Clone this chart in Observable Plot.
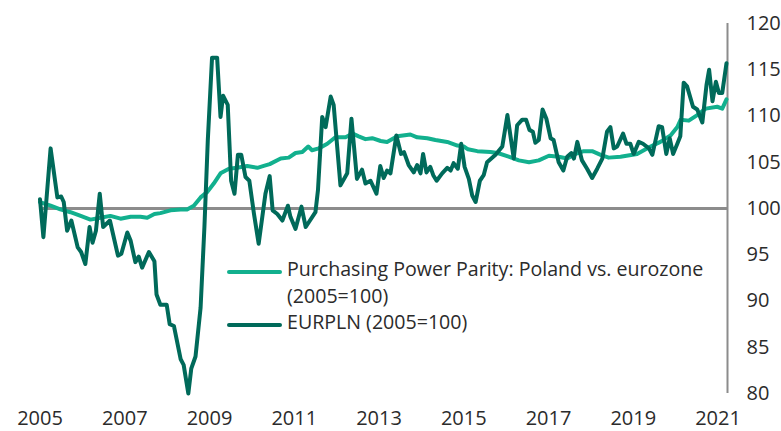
<!DOCTYPE html>
<html><head><meta charset="utf-8">
<script src="https://cdn.jsdelivr.net/npm/d3@7"></script>
<script src="https://cdn.jsdelivr.net/npm/@observablehq/plot@0.6"></script>
<style>
body{margin:0;background:#fff;}
#wrap{position:relative;width:781px;height:431px;font-family:"Open Sans", sans-serif;}
#legend{position:absolute;left:227px;top:256px;font-size:19.6px;line-height:26.7px;color:#2b2b2b;}
.row{display:flex;align-items:flex-start;white-space:nowrap;}
.sw{width:55px;height:4px;border-radius:2px;margin-right:5px;margin-top:13.7px;flex:none;}
</style>
</head><body>
<div id="wrap"></div>
<script>
// Series names
const seriesNames = ["Purchasing Power Parity: Poland vs. eurozone (2005=100)", "EURPLN (2005=100)"];
const seriesColors = ["#12b08e", "#006a5a"];
const baseline = 100;
const xTicks = [2005, 2007, 2009, 2011, 2013, 2015, 2017, 2019, 2021];
const yTicks = [80, 85, 90, 95, 100, 105, 110, 115, 120];
const xDomain = [2005, 2021.224];
const yDomain = [80, 120];

// EURPLN index (decimal year, value)
const eurDates = [2005.00,2005.08,2005.25,2005.41,2005.50,2005.56,2005.64,2005.74,2005.89,2005.97,
2006.07,2006.17,2006.24,2006.32,2006.41,2006.49,2006.65,2006.84,2006.92,
2007.06,2007.14,2007.25,2007.33,2007.41,2007.57,2007.70,2007.75,2007.84,2007.99,
2008.06,2008.16,2008.32,2008.39,2008.50,2008.57,2008.67,2008.79,2008.88,2008.96,
2009.06,2009.18,2009.26,2009.32,2009.43,2009.51,2009.59,2009.67,2009.75,2009.85,2009.94,
2010.05,2010.16,2010.32,2010.42,2010.49,2010.60,2010.72,2010.85,2010.91,
2011.03,2011.17,2011.27,2011.50,2011.56,2011.66,2011.74,2011.86,2011.93,
2012.09,2012.25,2012.35,2012.48,2012.60,2012.68,2012.80,2012.94,
2013.03,2013.11,2013.19,2013.27,2013.41,2013.52,2013.59,2013.70,2013.82,2013.90,2013.98,
2014.04,2014.12,2014.21,2014.28,2014.36,2014.49,2014.61,2014.69,2014.76,2014.86,2014.94,
2015.02,2015.12,2015.20,2015.28,2015.38,2015.47,2015.55,2015.65,2015.75,2015.91,
2016.03,2016.18,2016.26,2016.38,2016.47,2016.55,2016.63,2016.69,2016.77,2016.86,2016.95,
2017.05,2017.12,2017.24,2017.35,2017.44,2017.54,2017.60,2017.68,2017.79,2017.91,
2018.03,2018.15,2018.27,2018.38,2018.46,2018.54,2018.62,2018.76,2018.84,2018.93,
2019.01,2019.13,2019.23,2019.37,2019.45,2019.60,2019.68,2019.78,2019.86,2019.94,
2020.04,2020.11,2020.19,2020.27,2020.41,2020.51,2020.63,2020.73,2020.79,2020.87,2020.95,
2021.02,2021.10,2021.20];
const eurValues = [101.0,96.9,106.5,101.2,101.3,100.7,97.6,98.7,95.8,95.3,
94.0,98.0,96.3,97.6,101.6,98.0,98.7,94.9,95.1,
97.4,96.5,94.2,94.8,93.6,95.3,94.3,90.7,89.6,89.6,
87.5,87.3,83.7,83.1,80.0,82.7,84.0,89.3,98.0,107.4,
116.3,116.3,109.9,112.2,111.2,103.0,101.6,105.8,105.8,103.4,103.0,
99.4,96.2,101.6,103.5,99.8,99.4,98.7,100.3,99.1,
97.8,100.2,98.0,99.6,102.0,109.9,108.8,112.1,111.2,
102.5,103.8,109.7,103.2,104.2,102.7,103.0,101.6,
104.6,103.3,104.1,103.8,107.9,105.9,106.1,104.7,103.9,104.7,103.8,
105.9,103.9,104.5,103.6,103.0,103.8,104.4,104.1,104.9,104.3,107.0,
104.5,103.2,101.4,100.7,103.0,103.6,105.0,105.4,105.8,106.7,
110.1,105.4,109.0,109.6,109.6,108.5,108.3,107.1,107.4,110.7,109.7,
107.6,107.4,105.0,104.1,105.6,106.0,105.4,107.2,105.2,104.3,
103.3,104.3,105.4,108.3,108.8,106.5,106.7,108.1,107.0,107.0,
105.9,107.2,107.0,106.5,105.8,108.9,108.8,105.9,107.6,105.9,
107.0,107.8,113.6,113.2,111.0,110.7,109.3,113.4,115.0,111.6,113.7,
112.5,112.5,115.7];

// Purchasing Power Parity index (decimal year, value)
const pppDates = [2005.00,2005.25,2005.48,2005.72,2005.96,2006.19,2006.43,2006.66,2006.90,
2007.14,2007.37,2007.53,2007.70,2007.84,2008.08,2008.32,2008.47,2008.63,2008.79,2008.95,
2009.10,2009.26,2009.46,2009.65,2009.89,2010.13,2010.28,2010.42,2010.68,2010.87,
2011.03,2011.19,2011.33,2011.42,2011.58,2011.78,2011.97,2012.21,2012.38,2012.52,2012.68,2012.84,
2013.04,2013.19,2013.43,2013.74,2013.90,2014.14,2014.33,2014.61,2014.85,2015.00,2015.10,2015.32,
2015.63,2015.80,2016.06,2016.30,2016.54,2016.77,2017.01,2017.24,2017.44,2017.64,2017.83,
2018.03,2018.23,2018.42,2018.70,2019.09,2019.41,2019.64,2019.88,2020.04,2020.12,2020.31,
2020.51,2020.71,2020.98,2021.10,2021.20];
const pppValues = [100.7,100.3,99.9,99.6,99.2,98.8,99.0,99.2,98.9,
99.1,99.1,99.0,99.4,99.5,99.8,99.9,99.9,100.3,101.2,101.8,
102.7,103.8,104.3,104.4,104.6,104.4,104.6,104.8,105.4,105.5,
106.0,106.1,106.7,106.3,106.5,107.0,107.7,107.7,108.1,107.8,107.5,107.6,
107.3,107.2,107.8,108.0,107.7,107.6,107.4,107.2,106.8,106.7,106.4,106.2,
106.1,106.0,105.6,105.2,105.0,105.2,105.7,105.6,105.4,105.9,106.2,
106.2,105.8,105.5,105.6,105.9,106.7,107.2,107.9,108.8,109.6,109.5,
110.1,110.8,111.0,110.8,111.8];

const ppp = pppDates.map((d, i) => ({date: d, value: pppValues[i]}));
const eur = eurDates.map((d, i) => ({date: d, value: eurValues[i]}));

const gray = "#8c8c8c";
const chart = Plot.plot({
  width: 781, height: 431,
  marginLeft: 39.5, marginRight: 54, marginTop: 23, marginBottom: 38,
  x: {domain: xDomain, label: null},
  y: {domain: yDomain, label: null},
  style: {fontFamily: "'Open Sans', sans-serif", fontSize: "20px", color: "#2b2b2b", background: "white"},
  marks: [
    Plot.ruleY([baseline], {stroke: gray, strokeWidth: 3}),
    Plot.ruleX([xDomain[1]], {stroke: gray, strokeWidth: 2}),
    Plot.lineY(ppp, {x: "date", y: "value", stroke: seriesColors[0], strokeWidth: 4, strokeLinejoin: "round", strokeLinecap: "round"}),
    Plot.lineY(eur, {x: "date", y: "value", stroke: seriesColors[1], strokeWidth: 4, strokeLinejoin: "round", strokeLinecap: "round"}),
    Plot.axisX({ticks: xTicks, tickSize: 0, tickPadding: 17, tickFormat: d3.format("d"), fontSize: 20, label: null}),
    Plot.axisY({anchor: "right", ticks: yTicks, tickSize: 0, tickPadding: 19, textAnchor: "start", fontSize: 20, label: null})
  ]
});
const wrap = document.getElementById("wrap");
wrap.appendChild(chart);

const legend = document.createElement("div");
legend.id = "legend";
legend.innerHTML = `
<div class="row"><span class="sw" style="background:${seriesColors[0]}"></span><span>Purchasing Power Parity: Poland vs. eurozone<br>(2005=100)</span></div>
<div class="row"><span class="sw" style="background:${seriesColors[1]}"></span><span>EURPLN (2005=100)</span></div>`;
wrap.appendChild(legend);
</script>
</body></html>
